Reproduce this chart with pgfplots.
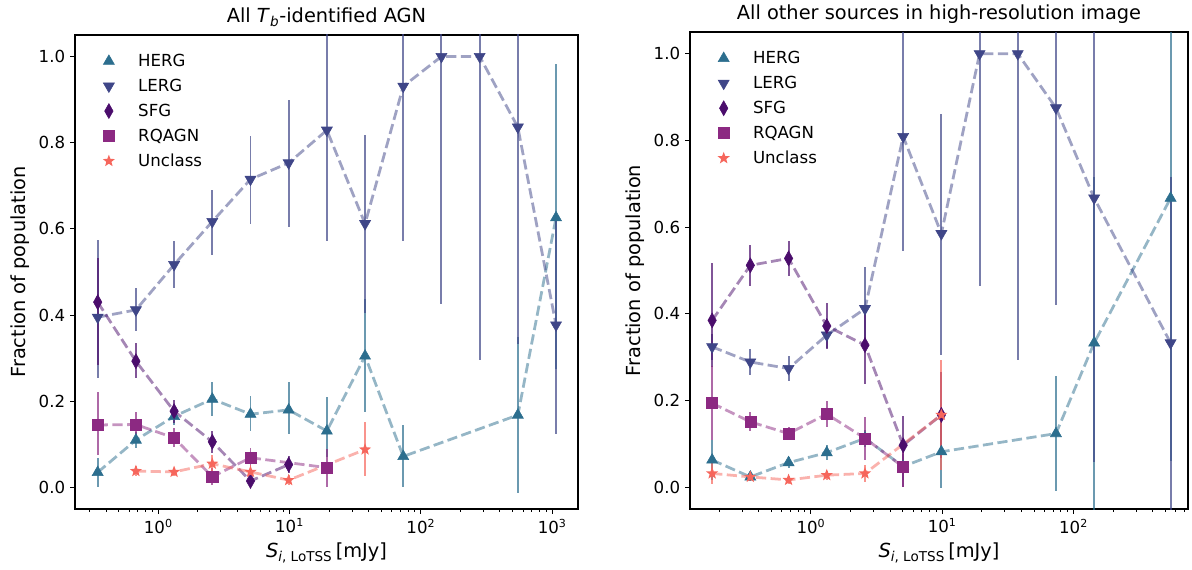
\documentclass[border=0pt]{standalone}
\usepackage{fontspec}
\setmainfont{DejaVu Sans}
\usepackage{pgfplots}
\pgfplotsset{compat=1.18}
\usepackage{pgfplotstable}

\definecolor{cH}{HTML}{2C6E8E}
\definecolor{cL}{HTML}{3F4688}
\definecolor{cS}{HTML}{4B0D6C}
\definecolor{cR}{HTML}{8C2982}
\definecolor{cU}{HTML}{F6665C}

\pgfdeclareplotmark{fstar}{%
 \pgfpathmoveto{\pgfpointpolar{90}{\pgfplotmarksize}}%
 \pgfpathlineto{\pgfpointpolar{126}{0.42\pgfplotmarksize}}%
 \pgfpathlineto{\pgfpointpolar{162}{\pgfplotmarksize}}%
 \pgfpathlineto{\pgfpointpolar{198}{0.42\pgfplotmarksize}}%
 \pgfpathlineto{\pgfpointpolar{234}{\pgfplotmarksize}}%
 \pgfpathlineto{\pgfpointpolar{270}{0.42\pgfplotmarksize}}%
 \pgfpathlineto{\pgfpointpolar{306}{\pgfplotmarksize}}%
 \pgfpathlineto{\pgfpointpolar{342}{0.42\pgfplotmarksize}}%
 \pgfpathlineto{\pgfpointpolar{18}{\pgfplotmarksize}}%
 \pgfpathlineto{\pgfpointpolar{54}{0.42\pgfplotmarksize}}%
 \pgfpathclose\pgfusepathqfill}

% ---------------- left panel data ----------------
\pgfplotstableread{
x y ep em
0.3454 0.035 0.033 0.035
0.6752 0.110 0.018 0.018
1.319 0.165 0.020 0.020
2.578 0.205 0.040 0.040
5.037 0.170 0.042 0.040
9.84 0.180 0.065 0.057
19.23 0.131 0.080 0.060
37.57 0.305 0.133 0.130
73.4 0.072 0.074 0.072
547.6 0.168 0.180 0.180
1070 0.626 0.357 0.352
}\tLH
\pgfplotstableread{
x y ep em
0.3454 0.395 0.180 0.140
0.6752 0.412 0.050 0.050
1.319 0.517 0.054 0.054
2.578 0.617 0.074 0.078
5.037 0.715 0.100 0.103
9.84 0.753 0.146 0.149
19.23 0.829 0.300 0.257
37.57 0.612 0.205 0.207
73.4 0.931 0.300 0.359
143.4 1.000 0.300 0.575
280.3 1.000 0.300 0.705
547.6 0.836 0.300 0.504
1070 0.377 0.250 0.254
}\tLL
\pgfplotstableread{
x y ep em
0.3454 0.430 0.103 0.145
0.6752 0.293 0.043 0.040
1.319 0.177 0.026 0.027
2.578 0.106 0.025 0.026
5.037 0.015 0.016 0.015
9.84 0.053 0.020 0.020
}\tLS
\pgfplotstableread{
x y ep em
0.3454 0.145 0.076 0.070
0.6752 0.146 0.030 0.030
1.319 0.115 0.022 0.022
2.578 0.025 0.020 0.020
5.037 0.069 0.023 0.023
19.23 0.046 0.044 0.046
}\tLR
\pgfplotstableread{
x y ep em
0.6752 0.038 0.012 0.012
1.319 0.036 0.010 0.010
2.578 0.055 0.020 0.020
5.037 0.036 0.015 0.015
9.84 0.017 0.012 0.012
37.57 0.088 0.064 0.062
}\tLU

% ---------------- right panel data ----------------
\pgfplotstableread{
x y ep em
0.1768 0.063 0.045 0.045
0.3454 0.024 0.010 0.010
0.6752 0.057 0.012 0.012
1.319 0.080 0.018 0.018
2.578 0.113 0.020 0.020
5.037 0.048 0.030 0.030
9.84 0.082 0.080 0.083
73.4 0.124 0.132 0.132
143.4 0.333 0.383 0.450
547.6 0.667 0.450 0.607
}\tRH
\pgfplotstableread{
x y ep em
0.1768 0.324 0.030 0.030
0.3454 0.289 0.030 0.030
0.6752 0.274 0.028 0.028
1.319 0.351 0.030 0.030
2.578 0.412 0.095 0.080
5.037 0.809 0.300 0.264
9.84 0.585 0.275 0.280
19.23 1.000 0.300 0.536
37.57 1.000 0.300 0.707
73.4 0.875 0.300 0.455
143.4 0.667 0.450 0.608
547.6 0.333 0.383 0.450
}\tRL
\pgfplotstableread{
x y ep em
0.1768 0.385 0.133 0.107
0.3454 0.512 0.047 0.047
0.6752 0.528 0.040 0.040
1.319 0.372 0.053 0.053
2.578 0.328 0.090 0.090
5.037 0.097 0.068 0.097
9.84 0.167 0.100 0.100
}\tRS
\pgfplotstableread{
x y ep em
0.1768 0.194 0.085 0.085
0.3454 0.151 0.022 0.022
0.6752 0.124 0.015 0.015
1.319 0.169 0.030 0.030
2.578 0.113 0.050 0.050
5.037 0.047 0.047 0.047
}\tRR
\pgfplotstableread{
x y ep em
0.1768 0.032 0.025 0.025
0.3454 0.024 0.010 0.010
0.6752 0.017 0.010 0.010
1.319 0.028 0.010 0.010
2.578 0.032 0.020 0.020
9.84 0.167 0.127 0.127
}\tRU

\pgfkeys{/pgf/number format/assume math mode=true}
\pgfplotsset{
 every axis/.append style={
  scale only axis, ymin=-0.05, ymax=1.05,
  axis line style={line width=1.1pt},
  tick align=outside, tick pos=left,
  major tick length=3.6pt, minor tick length=2.1pt,
  tick style={black, line width=0.7pt},
  ytick={0,0.2,0.4,0.6,0.8,1.0},
  yticklabel style={/pgf/number format/fixed,/pgf/number format/fixed zerofill,/pgf/number format/precision=1},
  tick label style={font=\fontsize{12}{14}\selectfont},
  label style={font=\fontsize{14}{16}\selectfont},
  title style={font=\fontsize{14}{16}\selectfont, yshift=-3.5pt},
  legend style={draw=none, fill=none, at={(0.036,0.972)}, anchor=north west,
     font=\fontsize{12}{14}\selectfont, row sep=3.6pt},
  legend cell align=left,
 },
 dl/.style={draw=#1, dash pattern=on 7.4pt off 3.2pt, line width=2pt, opacity=0.5, no marks, forget plot},
 eb/.style={only marks, color=#1, mark options={fill=#1, draw=#1, solid},
   error bars/y dir=both, error bars/y explicit, error bars/error mark=none,
   error bars/error bar style={line width=1.4pt, opacity=0.7, draw=#1}},
}

\begin{document}
\begin{tikzpicture}
\path[use as bounding box] (0,0) rectangle (861.46pt,411.94pt);

\begin{axis}[xmode=log, at={(54.2pt,44.08pt)}, anchor=south west,
  width=363.5pt, height=342.6pt, xmin=0.232, xmax=1572,
  xtick={1,10,100,1000},
  xticklabels={10\textsuperscript{0},10\textsuperscript{1},10\textsuperscript{2},10\textsuperscript{3}},
  minor xtick={0.3,0.4,0.5,0.6,0.7,0.8,0.9,2,3,4,5,6,7,8,9,20,30,40,50,60,70,80,90,200,300,400,500,600,700,800,900},
  xlabel={\textit{S}\textsubscript{\textit{i}, LoTSS}\,[mJy]},
  ylabel={Fraction of population},
  legend image code/.code={\path (0pt,0pt) (27pt,0pt); \draw[mark repeat=2,mark phase=2,#1] plot coordinates {(0pt,0pt)(8pt,0pt)(16pt,0pt)};},
  title={All \textit{T}\textsubscript{\textit{b}}-identified AGN}]
\addplot[dl=cH] table[x=x,y=y] {\tLH};
\addplot[eb=cH, mark=triangle*, mark size=4.6pt] table[x=x,y=y,y error plus=ep,y error minus=em] {\tLH};
\addlegendentry{HERG}
\addplot[dl=cL] table[x=x,y=y] {\tLL};
\addplot[eb=cL, mark=triangle*, mark size=4.6pt, mark options={rotate=180}] table[x=x,y=y,y error plus=ep,y error minus=em] {\tLL};
\addlegendentry{LERG}
\addplot[dl=cS] table[x=x,y=y] {\tLS};
\addplot[eb=cS, mark=diamond*, mark size=5.4pt, mark options={xscale=0.75}] table[x=x,y=y,y error plus=ep,y error minus=em] {\tLS};
\addlegendentry{SFG}
\addplot[dl=cR] table[x=x,y=y] {\tLR};
\addplot[eb=cR, mark=square*, mark size=4pt] table[x=x,y=y,y error plus=ep,y error minus=em] {\tLR};
\addlegendentry{RQAGN}
\addplot[dl=cU] table[x=x,y=y] {\tLU};
\addplot[eb=cU, mark=fstar, mark size=4.6pt] table[x=x,y=y,y error plus=ep,y error minus=em] {\tLU};
\addlegendentry{Unclass}
\end{axis}

\begin{axis}[xmode=log, at={(498.66pt,44.08pt)}, anchor=south west,
  width=359.9pt, height=344.7pt, xmin=0.1199, xmax=743,
  xtick={1,10,100},
  xticklabels={10\textsuperscript{0},10\textsuperscript{1},10\textsuperscript{2}},
  minor xtick={0.2,0.3,0.4,0.5,0.6,0.7,0.8,0.9,2,3,4,5,6,7,8,9,20,30,40,50,60,70,80,90,200,300,400,500,600,700},
  xlabel={\textit{S}\textsubscript{\textit{i}, LoTSS}\,[mJy]},
  ylabel={Fraction of population},
  legend image code/.code={\path (0pt,0pt) (27pt,0pt); \draw[mark repeat=2,mark phase=2,#1] plot coordinates {(0pt,0pt)(8pt,0pt)(16pt,0pt)};},
  title={All other sources in high-resolution image}]
\addplot[dl=cH] table[x=x,y=y] {\tRH};
\addplot[eb=cH, mark=triangle*, mark size=4.6pt] table[x=x,y=y,y error plus=ep,y error minus=em] {\tRH};
\addlegendentry{HERG}
\addplot[dl=cL] table[x=x,y=y] {\tRL};
\addplot[eb=cL, mark=triangle*, mark size=4.6pt, mark options={rotate=180}] table[x=x,y=y,y error plus=ep,y error minus=em] {\tRL};
\addlegendentry{LERG}
\addplot[dl=cS] table[x=x,y=y] {\tRS};
\addplot[eb=cS, mark=diamond*, mark size=5.4pt, mark options={xscale=0.75}] table[x=x,y=y,y error plus=ep,y error minus=em] {\tRS};
\addlegendentry{SFG}
\addplot[dl=cR] table[x=x,y=y] {\tRR};
\addplot[eb=cR, mark=square*, mark size=4pt] table[x=x,y=y,y error plus=ep,y error minus=em] {\tRR};
\addlegendentry{RQAGN}
\addplot[dl=cU] table[x=x,y=y] {\tRU};
\addplot[eb=cU, mark=fstar, mark size=4.6pt] table[x=x,y=y,y error plus=ep,y error minus=em] {\tRU};
\addlegendentry{Unclass}
\end{axis}
\end{tikzpicture}
\end{document}
